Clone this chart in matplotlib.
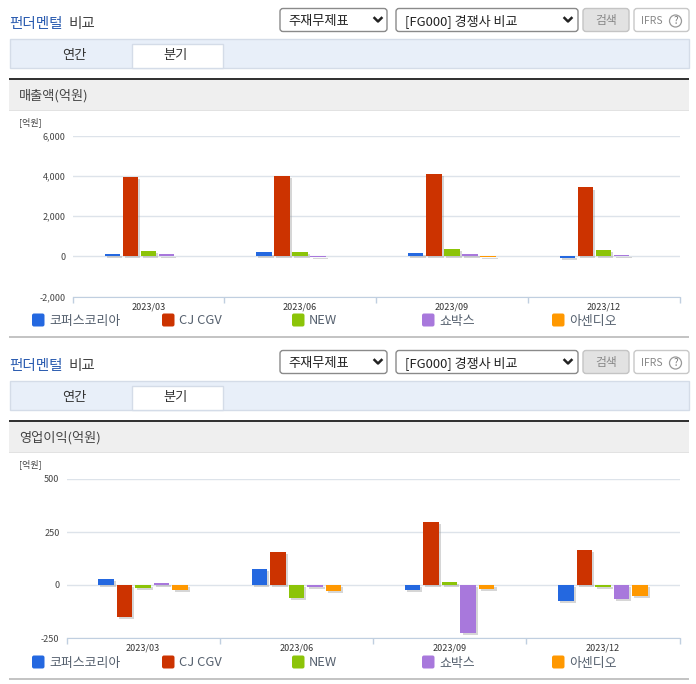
#!/usr/bin/env python3
import matplotlib
matplotlib.use("Agg")
import matplotlib.pyplot as plt
import matplotlib.patheffects as pe
from matplotlib.patches import Rectangle, FancyBboxPatch, Circle

plt.rcParams['font.family'] = ['Noto Sans CJK KR', 'DejaVu Sans']

quarters = ["2023/03", "2023/06", "2023/09", "2023/12"]
companies = ["코퍼스코리아", "CJ CGV", "NEW", "쇼박스", "아센디오"]
colors = ["#2468e0", "#cc3300", "#8cc408", "#a878dc", "#ff9800"]

# 매출액, one list per company
sales_corpus = [100, 190, 150, -80]
sales_cgv = [3920, 3990, 4080, 3420]
sales_new = [280, 230, 370, 320]
sales_showbox = [90, -50, 130, 80]
sales_ascendio = [10, 5, -50, 5]

# 영업이익
profit_corpus = [30, 75, -22, -75]
profit_cgv = [-150, 157, 298, 167]
profit_new = [-12, -62, 15, -8]
profit_showbox = [8, -8, -225, -68]
profit_ascendio = [-22, -28, -18, -50]

sales = [sales_corpus, sales_cgv, sales_new, sales_showbox, sales_ascendio]
profit = [profit_corpus, profit_cgv, profit_new, profit_showbox, profit_ascendio]
sales_ticks = [-2000, 0, 2000, 4000, 6000]
profit_ticks = [-250, 0, 250, 500]

W, H = 696, 684
fig = plt.figure(figsize=(W / 100, H / 100), dpi=100)
bg = fig.add_axes([0, 0, 1, 1])
bg.set_xlim(0, W)
bg.set_ylim(H, 0)
bg.axis("off")


def box(x0, y0, x1, y1, fc, ec="none", lw=1):
    bg.add_patch(Rectangle((x0, y0), x1 - x0, y1 - y0, fc=fc, ec=ec, lw=lw))


def rounded(x0, y0, x1, y1, fc, ec):
    bg.add_patch(FancyBboxPatch((x0 + 2, y0 + 2), x1 - x0 - 4, y1 - y0 - 4,
                                boxstyle="round,pad=2,rounding_size=3", fc=fc, ec=ec, lw=1))


def chevron(x, y):
    bg.plot([x - 3.5, x, x + 3.5], [y - 2, y + 1.5, y - 2], color="#222222", lw=1.8)


def panel(dy, label):
    # top controls
    bg.text(9, 24 + dy, "펀더멘털", fontsize=10.5, color="#2b5cb0", va="center", weight="medium")
    bg.text(69, 24 + dy, "비교", fontsize=10.5, color="#444444", va="center", weight="medium")
    rounded(280, 8.5 + dy, 387, 31.5 + dy, "white", "#8a8a8a")
    bg.text(288, 21 + dy, "주재무제표", fontsize=9.5, color="#222222", va="center")
    chevron(378, 20 + dy)
    rounded(396, 8.5 + dy, 578, 31.5 + dy, "white", "#8a8a8a")
    bg.text(405, 21 + dy, "[FG000] 경쟁사 비교", fontsize=9.4, color="#222222", va="center")
    chevron(568, 20 + dy)
    rounded(583, 8.5 + dy, 629, 31.5 + dy, "#e2e2e2", "#c4c4c4")
    bg.text(606, 20.5 + dy, "검색", fontsize=8.5, color="#888888", va="center", ha="center")
    rounded(634, 8.5 + dy, 689, 31.5 + dy, "white", "#c8c8c8")
    bg.text(641, 20.5 + dy, "IFRS", fontsize=7.5, color="#888888", va="center")
    bg.add_patch(Circle((675.5, 21 + dy), 6, fc="white", ec="#999999", lw=0.9))
    bg.text(675.5, 21 + dy, "?", fontsize=7, color="#777777", va="center", ha="center")

    # tabs
    box(9.5, 38.5 + dy, 688.5, 67.5 + dy, "#e8eff9", "#d4dce8")
    box(131.5, 43.5 + dy, 222.5, 67.5 + dy, "white", "#d4dce8")
    bg.text(74, 55 + dy, "연간", fontsize=9.5, color="#333333", va="center", ha="center")
    bg.text(176, 55 + dy, "분기", fontsize=9.5, color="#333333", va="center", ha="center")

    # section header
    box(9, 80 + dy, 689, 110.5 + dy, "#efefef")
    box(9, 78 + dy, 689, 80 + dy, "#333333")
    box(9, 110 + dy, 689, 111 + dy, "#e2e2e2")
    bg.text(19, 96 + dy, label, fontsize=9.5, color="#444444", va="center")
    bg.text(19, 122.5 + dy, "[억원]", fontsize=6.5, color="#444444", va="center")

    # legend
    for i, (name, c) in enumerate(zip(companies, colors)):
        bg.add_patch(FancyBboxPatch((33.5 + 130 * i, 315 + dy), 9.5, 10,
                                    boxstyle="round,pad=1.5,rounding_size=2", fc=c, ec="none"))
        bg.text(49 + 130 * i, 321 + dy, name, fontsize=9.3, color="#55606e", va="center")

    box(9, 336 + dy, 689, 338 + dy, "#c4c4c4")


def chart(left, right, top, bottom, values, ticks, step, width):
    ax = fig.add_axes([left / W, 1 - bottom / H, (right - left) / W, (bottom - top) / H])
    ax.patch.set_alpha(0)
    for j, series in enumerate(values):
        xs = [i + (j - 2) * step for i in range(len(quarters))]
        bars = ax.bar(xs, series, width=width, color=colors[j], zorder=3)
        for b in bars:
            b.set_path_effects([pe.SimplePatchShadow(offset=(1.5, -1.5), shadow_rgbFace="#999999", alpha=0.4),
                                pe.Normal()])
    ax.set_xlim(-0.5, len(quarters) - 0.5)
    ax.set_ylim(ticks[0], ticks[-1])
    ax.set_yticks(ticks)
    ax.set_yticklabels([f"{t:,}" for t in ticks], fontsize=6.5, color="#444444")
    ax.set_xticks(range(len(quarters)))
    ax.set_xticklabels(quarters, fontsize=6.5, color="#333333")
    ax.set_xticks([i - 0.5 for i in range(len(quarters) + 1)], minor=True)
    ax.tick_params(axis="y", length=0, pad=5)
    ax.tick_params(axis="x", which="major", length=0, pad=4)
    ax.tick_params(axis="x", which="minor", length=4, color="#c0cfe0", width=1)
    ax.grid(axis="y", color="#dde3ea", lw=1, zorder=1)
    ax.spines[["top", "left", "right"]].set_visible(False)
    ax.spines["bottom"].set_color("#c0cfe0")
    ax.set_axisbelow(True)
    return ax


panel(0, "매출액(억원)")
panel(342, "영업이익(억원)")
chart(72.5, 679.5, 135.5, 296.5, sales, sales_ticks, 0.119, 0.102)
chart(66.5, 679.5, 479, 638, profit, profit_ticks, 0.121, 0.101)

fig.savefig("out.png", dpi=100)
